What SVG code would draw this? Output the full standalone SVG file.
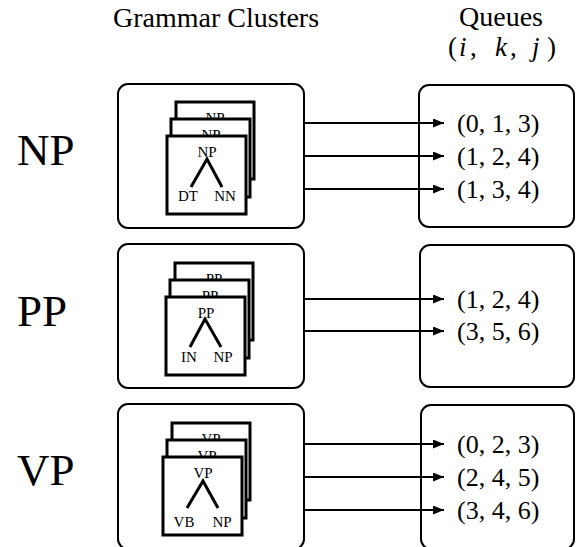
<svg xmlns="http://www.w3.org/2000/svg" width="576" height="547" viewBox="0 0 576 547">
<style>
.t{font-family:"Liberation Serif","Times New Roman",serif;fill:#000}
.box{fill:#fff;stroke:#000;stroke-width:2}
.card{fill:#fff;stroke:#000;stroke-width:3}
.tree{fill:none;stroke:#000;stroke-width:3}
.cl{font-size:15px;text-anchor:middle}
.big{font-size:45px}
.q{font-size:26px}
.conn line{stroke:#000;stroke-width:2}
</style>
<defs>
<marker id="ah" viewBox="0 0 11 9" refX="11" refY="4.5" markerWidth="11" markerHeight="9" markerUnits="userSpaceOnUse" orient="auto">
<path d="M0,0 L11,4.5 L0,9 z" fill="#000"/>
</marker>
</defs>
<rect width="576" height="547" fill="#fff"/>
<g id="headers">
<text class="t" x="113" y="27" font-size="28">Grammar Clusters</text>
<text class="t" x="459" y="26" font-size="28">Queues</text>
<text class="t" y="56" font-size="27"><tspan x="448">(</tspan><tspan x="459" font-style="italic">i</tspan><tspan x="470">,</tspan><tspan x="495" font-style="italic">k</tspan><tspan x="510">,</tspan><tspan x="532" font-style="italic">j</tspan><tspan x="547">)</tspan></text>
</g>
<g id="label-NP"><text class="t big" x="17" y="165">NP</text></g>
<g id="label-PP"><text class="t big" x="17" y="326">PP</text></g>
<g id="label-VP"><text class="t big" x="17" y="485">VP</text></g>

<g id="cluster-NP">
<rect class="box" x="118" y="84" width="186" height="144" rx="10"/>
<g transform="translate(167,136)">
<rect class="card" x="9" y="-34" width="78" height="77"/>
<text class="t cl" x="48" y="-13">NP</text>
<rect class="card" x="4" y="-17" width="79" height="78"/>
<text class="t cl" x="44" y="4">NP</text>
<rect class="card" x="0" y="0" width="79" height="78"/>
<text class="t cl" x="40" y="21">NP</text>
<path class="tree" d="M24,51 L40,23 L55,51"/>
<text class="t cl" x="21" y="65">DT</text>
<text class="t cl" x="58" y="65">NN</text>
</g>
</g>

<g id="cluster-PP">
<rect class="box" x="118" y="244" width="186" height="144" rx="10"/>
<g transform="translate(166,297)">
<rect class="card" x="9" y="-34" width="78" height="77"/>
<text class="t cl" x="48" y="-13">PP</text>
<rect class="card" x="4" y="-17" width="79" height="78"/>
<text class="t cl" x="44" y="4">PP</text>
<rect class="card" x="0" y="0" width="79" height="78"/>
<text class="t cl" x="40" y="21">PP</text>
<path class="tree" d="M24,50 L39,22 L55,50"/>
<text class="t cl" x="23" y="65">IN</text>
<text class="t cl" x="57" y="65">NP</text>
</g>
</g>

<g id="cluster-VP">
<rect class="box" x="118" y="404" width="186" height="145" rx="10"/>
<g transform="translate(163,457)">
<rect class="card" x="9" y="-34" width="78" height="77"/>
<text class="t cl" x="48" y="-13">VP</text>
<rect class="card" x="4" y="-17" width="79" height="78"/>
<text class="t cl" x="44" y="4">VP</text>
<rect class="card" x="0" y="0" width="79" height="78"/>
<text class="t cl" x="40" y="21">VP</text>
<path class="tree" d="M24,51 L40,24 L55,51"/>
<text class="t cl" x="21" y="70">VB</text>
<text class="t cl" x="59" y="70">NP</text>
</g>
</g>

<g id="queue-NP">
<rect class="box" x="419" y="85" width="155" height="142" rx="10"/>
<text class="t q" x="457" y="132">(0, 1, 3)</text>
<text class="t q" x="457" y="165">(1, 2, 4)</text>
<text class="t q" x="457" y="198">(1, 3, 4)</text>
</g>
<g id="queue-PP">
<rect class="box" x="420" y="245" width="154" height="142" rx="10"/>
<text class="t q" x="457" y="308">(1, 2, 4)</text>
<text class="t q" x="457" y="340">(3, 5, 6)</text>
</g>
<g id="queue-VP">
<rect class="box" x="421" y="405" width="153" height="144" rx="10"/>
<text class="t q" x="457" y="453">(0, 2, 3)</text>
<text class="t q" x="457" y="486">(2, 4, 5)</text>
<text class="t q" x="457" y="519">(3, 4, 6)</text>
</g>

<g id="connectors" class="conn">
<line x1="304" y1="123" x2="444" y2="123" marker-end="url(#ah)"/>
<line x1="304" y1="156" x2="444" y2="156" marker-end="url(#ah)"/>
<line x1="304" y1="189" x2="444" y2="189" marker-end="url(#ah)"/>
<line x1="304" y1="299" x2="444" y2="299" marker-end="url(#ah)"/>
<line x1="304" y1="331" x2="444" y2="331" marker-end="url(#ah)"/>
<line x1="304" y1="444" x2="444" y2="444" marker-end="url(#ah)"/>
<line x1="304" y1="477" x2="444" y2="477" marker-end="url(#ah)"/>
<line x1="304" y1="510" x2="444" y2="510" marker-end="url(#ah)"/>
</g>
</svg>
